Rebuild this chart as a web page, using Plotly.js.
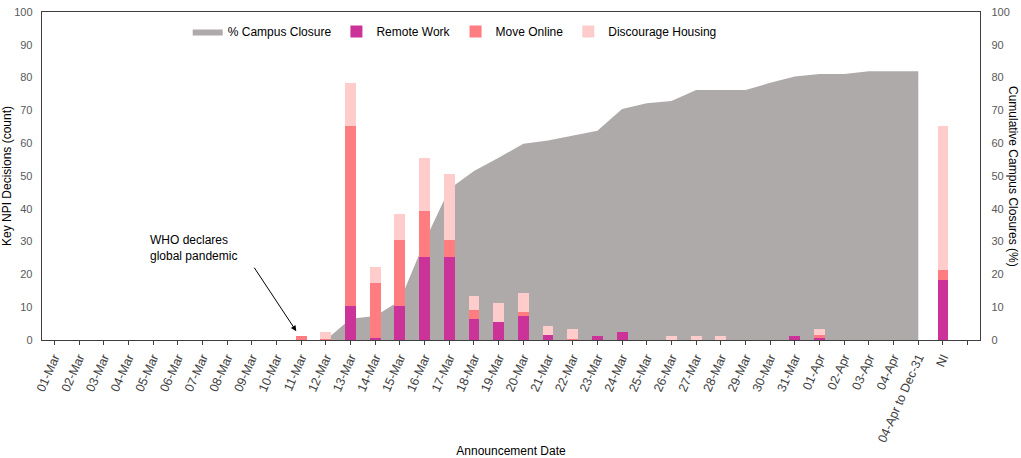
<!DOCTYPE html>
<html>
<head>
<meta charset="utf-8">
<script src="https://cdn.plot.ly/plotly-3.0.1.min.js"></script>
<style>
  html, body { margin: 0; padding: 0; background: #fff; }
  #chart { width: 1021px; height: 458px; }
</style>
</head>
<body>
<div id="chart"></div>
<script>
// announcement dates (last two are the open-ended bucket and "NI")
const dates = [
    '01-Mar', '02-Mar', '03-Mar', '04-Mar', '05-Mar', '06-Mar', '07-Mar', '08-Mar', '09-Mar', '10-Mar',
    '11-Mar', '12-Mar', '13-Mar', '14-Mar', '15-Mar', '16-Mar', '17-Mar', '18-Mar', '19-Mar', '20-Mar',
    '21-Mar', '22-Mar', '23-Mar', '24-Mar', '25-Mar', '26-Mar', '27-Mar', '28-Mar', '29-Mar', '30-Mar',
    '31-Mar', '01-Apr', '02-Apr', '03-Apr', '04-Apr', '04-Apr to Dec-31', 'NI'
];

// cumulative % of campuses closed (right axis)
const campusClosure = [
    0, 0, 0, 0, 0, 0, 0, 0, 0, 0,
    0, 0, 6.5, 7.3, 12, 30, 46, 51.5, 55.6, 59.8,
    60.8, 62.3, 63.8, 70.4, 72.2, 72.9, 76.2, 76.2, 76.2, 78.4,
    80.3, 81.1, 81.1, 81.9, 81.9, 81.9, null
];

// NPI decision counts (left axis), stacked
const remoteWork = [
    0, 0, 0, 0, 0, 0, 0, 0, 0, 0,
    0, 0, 10.5, 0.5, 10.5, 25.4, 25.4, 6.4, 5.4, 7.3,
    1.4, 0, 1.3, 2.4, 0, 0, 0, 0, 0, 0,
    1.3, 0.5, 0, 0, 0, 0, 18.3
];
const moveOnline = [
    0, 0, 0, 0, 0, 0, 0, 0, 0, 0,
    1.3, 0.4, 54.8, 17, 20, 14, 5.1, 2.9, 0, 1.1,
    0, 0.3, 0, 0, 0, 0, 0, 0, 0, 0,
    0, 0.9, 0, 0, 0, 0, 3
];
const discourageHousing = [
    0, 0, 0, 0, 0, 0, 0, 0, 0, 0,
    0, 2, 13.1, 4.8, 7.8, 16, 20, 4.1, 5.8, 5.8,
    2.9, 3, 0, 0, 0, 1.3, 1.3, 1.3, 0, 0,
    0, 2, 0, 0, 0, 0, 44
];

const xIdx = dates.map((d, i) => i);
const tickVals = [...xIdx, dates.length];
const tickText = [...dates, ''];

const axisLine = '#3f3f3f';
const fontFamily = 'Liberation Sans, Arial, sans-serif';

const barStyle = (name, y, color) => ({
    x: xIdx, y: y, type: 'bar', name: name,
    xaxis: 'x', yaxis: 'y2', width: 0.44,
    marker: { color: color, line: { width: 0 } }
});

const traces = [
    {
        x: xIdx, y: campusClosure, type: 'scatter', mode: 'lines',
        name: '% Campus Closure', fill: 'tozeroy',
        fillcolor: '#aeaaaa', line: { width: 0, color: '#aeaaaa' },
        xaxis: 'x', yaxis: 'y'
    },
    barStyle('Remote Work', remoteWork, '#cc3399'),
    barStyle('Move Online', moveOnline, '#ff7c80'),
    barStyle('Discourage Housing', discourageHousing, '#ffcccc')
];

const layout = {
    width: 1021, height: 458,
    paper_bgcolor: '#fff', plot_bgcolor: 'rgba(0,0,0,0)',
    font: { family: fontFamily, size: 12, color: '#000' },
    margin: { t: 12, r: 41, b: 118, l: 42 },
    barmode: 'stack',
    showlegend: true,
    legend: {
        orientation: 'h', traceorder: 'normal',
        x: 0.44, xanchor: 'center', y: 0.985, yanchor: 'top',
        font: { size: 12, color: '#000' }, bgcolor: 'rgba(0,0,0,0)', itemwidth: 30
    },
    xaxis: {
        range: [-0.5, 37.5], tickmode: 'array', tickvals: tickVals, ticktext: tickText,
        tickangle: -66, ticks: 'outside', ticklen: 4, tickcolor: axisLine,
        showline: true, mirror: true, linecolor: axisLine, linewidth: 1.3,
        showgrid: false, zeroline: false,
        tickfont: { size: 12.5, color: '#404040' },
        title: { text: 'Announcement Date', font: { size: 12, color: '#000' }, standoff: 4 }
    },
    yaxis: {
        range: [0, 100], dtick: 10, showgrid: false, zeroline: false,
        showline: true, linecolor: axisLine, linewidth: 1.3, ticks: '',
        ticklabelstandoff: 6,
        tickfont: { size: 11, color: '#595959' },
        title: { text: 'Key NPI Decisions (count)', font: { size: 12, color: '#000' }, standoff: 4 }
    },
    yaxis2: {
        range: [0, 100], dtick: 10, overlaying: 'y', side: 'right',
        showgrid: false, zeroline: false,
        showline: true, linecolor: axisLine, linewidth: 1.3, ticks: '',
        ticklabelstandoff: 8,
        tickfont: { size: 11, color: '#595959' }
    },
    annotations: [
        {
            // right axis title reads top-to-bottom
            xref: 'paper', yref: 'paper', x: 1, y: 0.5, xanchor: 'center', yanchor: 'middle',
            xshift: 33,
            text: 'Cumulative Campus Closures (%)', showarrow: false,
            textangle: 90, font: { size: 12, color: '#000' }
        },
        {
            xref: 'x', yref: 'y', x: 3.8, y: 28, xanchor: 'left', yanchor: 'middle',
            text: 'WHO declares<br>global pandemic', align: 'left', showarrow: false,
            font: { size: 12, color: '#000' }
        },
        {
            xref: 'x', yref: 'y', x: 9.8, y: 2.7, ax: -45, ay: -68,
            text: ' ', showarrow: true, arrowhead: 2, arrowsize: 1.1,
            arrowwidth: 1, arrowcolor: '#000'
        }
    ]
};

Plotly.newPlot('chart', traces, layout, { displayModeBar: false, staticPlot: true });
</script>
</body>
</html>
